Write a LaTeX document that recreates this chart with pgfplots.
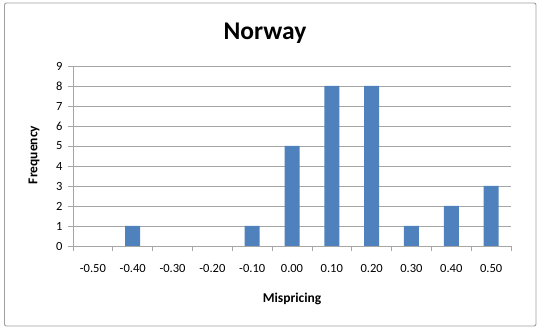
\documentclass[border=0pt]{standalone}
\usepackage{pgfplots}
\pgfplotsset{compat=1.18}
\usepackage{fontspec}
\setmainfont{Carlito}
\definecolor{barblue}{HTML}{4F81BD}
\definecolor{gridgray}{HTML}{A6A6A6}
\begin{document}
\begin{tikzpicture}[x=1pt,y=1pt]
\path[use as bounding box] (0,0) rectangle (540,329);
\draw[gray!75, line width=0.9pt, rounded corners=2pt] (4.5,3) rectangle (536,326);
\begin{axis}[
  at={(73pt,83pt)}, anchor=south west,
  scale only axis, width=438pt, height=180pt,
  ymin=0, ymax=9, xmin=-0.5, xmax=10.5,
  ytick={0,...,9},
  ymajorgrids, grid style={gridgray, line width=0.8pt},
  axis x line*=bottom, axis y line*=left,
  axis line style={-, gridgray, line width=0.8pt},
  xtick={0,...,10},
  xticklabels={-0.50,-0.40,-0.30,-0.20,-0.10,0.00,0.10,0.20,0.30,0.40,0.50},
  major x tick style={draw=none},
  minor xtick={-0.5,0.5,...,10.5},
  tick align=outside,
  major tick length=5pt, minor tick length=5pt,
  tick style={gridgray, line width=0.8pt},
  every tick label/.append style={font=\fontsize{12.5}{14}\selectfont, text=black},
  xticklabel style={yshift=-10pt},
  yticklabel style={xshift=-2pt},
  /pgf/number format/assume math mode=true,
]
% categories with frequency 0 (-0.50, -0.30, -0.20) have no bar
\addplot[ybar, bar width=15pt, fill=barblue, draw=none] coordinates {
(1,1) (4,1) (5,5) (6,8) (7,8) (8,1) (9,2) (10,3)};
\end{axis}
\node[font=\fontsize{25.5}{29}\selectfont\bfseries] at (265,296) {Norway};
\node[font=\fontsize{13.5}{15}\selectfont\bfseries] at (292,30) {Mispricing};
\node[font=\fontsize{13.5}{15}\selectfont\bfseries, rotate=90] at (34,174) {Frequency};
\end{tikzpicture}
\end{document}
